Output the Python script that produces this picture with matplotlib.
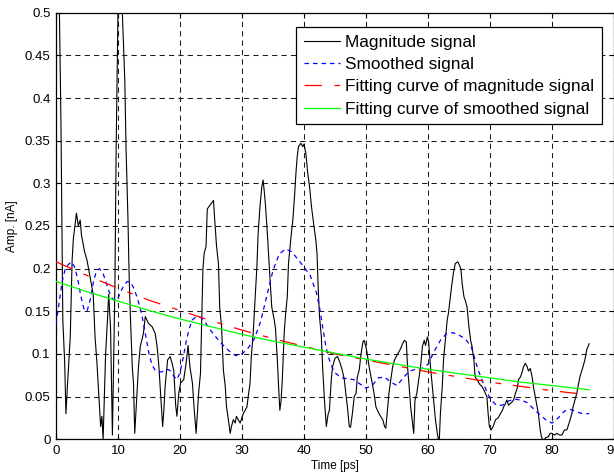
import matplotlib
matplotlib.use("Agg")
import matplotlib.pyplot as plt

plt.rcParams['font.family'] = ['Liberation Sans', 'DejaVu Sans']

# ---- data ----
mag_t = [0.0, 0.55, 0.8, 1.1, 1.4, 1.6, 1.9, 2.3, 2.6, 2.8, 3.3, 3.6, 3.9, 4.1, 4.6, 5.0,
         5.5, 6.0, 6.3, 6.6, 7.0, 7.2, 7.4, 7.6, 8.0, 8.3, 8.5, 8.8, 9.1, 9.5, 9.7, 10.0,
         10.3, 10.6, 11.1, 11.3, 11.6, 11.8, 12.0, 12.3, 12.5, 12.7, 13.0, 13.3, 13.6, 14.1,
         14.4, 14.9, 15.5, 16.0, 16.3, 16.6, 16.9, 17.2, 17.4, 17.6, 18.0, 18.4, 18.7, 19.0,
         19.3, 19.5, 19.8, 20.1, 20.6, 21.0, 21.3, 21.6, 22.0, 22.3, 22.6, 22.8, 23.0, 23.3,
         23.5, 23.7, 23.9, 24.2, 24.4, 24.9, 25.4, 25.6, 25.9, 26.2, 26.4, 26.7, 27.0, 27.3,
         27.5, 27.8, 28.1, 28.3, 28.6, 28.9, 29.1, 29.7, 30.2, 30.8, 31.0, 31.3, 31.5, 31.8,
         32.1, 32.4, 32.6, 32.9, 33.2, 33.4, 33.6, 33.8, 34.1, 34.5, 34.8, 35.2, 35.4, 35.7,
         35.9, 36.1, 36.3, 36.5, 36.8, 37.0, 37.3, 37.5, 37.9, 38.2, 38.5, 38.7, 38.9, 39.1,
         39.5, 39.8, 40.0, 40.3, 40.6, 40.9, 41.2, 41.6, 41.9, 42.1, 42.3, 42.5, 42.8, 43.0,
         43.3, 43.6, 43.9, 44.1, 44.4, 44.6, 45.0, 45.4, 45.8, 46.2, 46.5, 46.8, 47.0, 47.3,
         47.5, 47.8, 48.1, 48.4, 48.6, 48.9, 49.2, 49.5, 49.7, 50.0, 50.2, 50.5, 51.0, 51.3,
         51.6, 52.1, 52.7, 53.0, 53.2, 53.4, 53.7, 54.0, 54.3, 54.6, 55.1, 55.5, 55.9, 56.2,
         56.5, 56.7, 57.0, 57.2, 57.5, 57.7, 57.9, 58.2, 58.5, 58.8, 59.1, 59.4, 59.6, 59.9,
         60.1, 60.4, 60.7, 61.0, 61.2, 61.5, 61.8, 62.0, 62.3, 62.5, 62.8, 63.1, 63.3, 63.6,
         63.8, 64.1, 64.4, 64.8, 65.0, 65.3, 65.5, 65.8, 66.0, 66.3, 66.6, 66.9, 67.1, 67.4,
         67.6, 67.9, 68.2, 68.4, 68.7, 69.0, 69.5, 69.7, 69.9, 70.2, 70.5, 70.9, 71.3, 71.7,
         72.0, 72.2, 72.5, 72.7, 73.0, 73.3, 73.6, 73.8, 74.1, 74.4, 74.6, 74.9, 75.2, 75.4,
         75.7, 76.0, 76.2, 76.5, 76.8, 77.0, 77.3, 77.6, 77.8, 78.1, 78.3, 78.6, 79.0, 79.4,
         79.7, 80.0, 80.4, 80.8, 81.2, 81.6, 82.0, 82.4, 82.8, 83.2, 83.4, 83.7, 84.0, 84.2,
         84.5, 84.8, 85.0, 85.3, 85.6, 86.0]
mag_v = [0.90, 0.50, 0.37, 0.14, 0.09, 0.03, 0.07, 0.12, 0.21, 0.235, 0.265, 0.25, 0.257, 0.24, 0.22, 0.21,
         0.19, 0.17, 0.12, 0.09, 0.04, 0.015, 0.027, 0.0, 0.10, 0.14, 0.17, 0.13, 0.005, 0.18, 0.34, 0.50,
         0.70, 0.52, 0.42, 0.34, 0.26, 0.19, 0.144, 0.085, 0.065, 0.007, 0.046, 0.085, 0.109, 0.124,
         0.144, 0.136, 0.132, 0.124, 0.109, 0.085, 0.05, 0.015, 0.034, 0.062, 0.093, 0.097, 0.09, 0.08,
         0.04, 0.027, 0.054, 0.066, 0.07, 0.09, 0.11, 0.085, 0.066, 0.034, 0.007, 0.03, 0.054, 0.077,
         0.14, 0.20, 0.218, 0.226, 0.27, 0.275, 0.28, 0.257, 0.226, 0.206, 0.155, 0.132, 0.081, 0.062,
         0.038, 0.023, 0.007, 0.015, 0.023, 0.019, 0.027, 0.019, 0.03, 0.038, 0.05, 0.066, 0.097, 0.124,
         0.163, 0.202, 0.241, 0.273, 0.296, 0.304, 0.29, 0.273, 0.24, 0.19, 0.155, 0.14, 0.13, 0.093,
         0.062, 0.034, 0.045, 0.07, 0.124, 0.144, 0.167, 0.206, 0.237, 0.257, 0.288, 0.312, 0.331, 0.343,
         0.347, 0.343, 0.346, 0.335, 0.312, 0.296, 0.273, 0.25, 0.234, 0.218, 0.175, 0.144, 0.12, 0.085,
         0.046, 0.015, 0.03, 0.034, 0.07, 0.085, 0.095, 0.097, 0.09, 0.08, 0.07, 0.05, 0.038, 0.015,
         0.014, 0.03, 0.05, 0.054, 0.073, 0.081, 0.10, 0.114, 0.116, 0.108, 0.10, 0.085, 0.066, 0.054,
         0.038, 0.03, 0.023, 0.015, 0.013, 0.03, 0.054, 0.07, 0.085, 0.093, 0.10, 0.105, 0.112, 0.116,
         0.114, 0.085, 0.058, 0.038, 0.019, 0.007, 0.046, 0.054, 0.07, 0.085, 0.109, 0.116, 0.11, 0.12,
         0.114, 0.085, 0.062, 0.038, 0.023, 0.007, -0.005, 0.03, 0.062, 0.093, 0.116, 0.14, 0.148, 0.167,
         0.179, 0.195, 0.206, 0.208, 0.205, 0.20, 0.183, 0.167, 0.163, 0.155, 0.132, 0.115, 0.109, 0.093,
         0.073, 0.07, 0.066, 0.064, 0.062, 0.058, 0.05, 0.03, 0.015, 0.011, 0.015, 0.023, 0.025, 0.03,
         0.034, 0.038, 0.042, 0.046, 0.04, 0.042, 0.044, 0.046, 0.054, 0.06, 0.07, 0.073, 0.079, 0.085,
         0.089, 0.085, 0.08, 0.083, 0.073, 0.062, 0.05, 0.038, 0.03, 0.011, 0.003, -0.002, 0.002, 0.003,
         0.007, 0.007, 0.005, 0.007, 0.005, 0.005, 0.011, 0.011, 0.02, 0.03, 0.038, 0.046, 0.054, 0.062,
         0.073, 0.08, 0.085, 0.093, 0.105, 0.112]

smooth_t = [0, 0.5, 1.0, 1.5, 2.0, 2.5, 3.0, 3.5, 4.0, 4.5, 5.0, 5.5, 6.0, 6.5, 7.0, 7.5, 8.0, 8.5,
            9.0, 9.5, 10.0, 10.5, 11.0, 11.5, 12.0, 12.5, 13.0, 13.5, 14.0, 14.5, 15.0, 15.5, 16.0,
            16.5, 17.0, 17.5, 18.0, 18.5, 19.0, 19.5, 20.0, 20.5, 21.0, 21.5, 22.0, 22.5, 23.0, 23.5,
            24.0, 25.0, 26.0, 27.0, 28.0, 29.0, 30.0, 31.0, 32.0, 33.0, 34.0, 35.0, 36.0, 37.0, 38.0,
            39.0, 40.0, 41.0, 42.0, 42.5, 43.0, 43.5, 44.0, 44.5, 45.0, 46.0, 47.0, 48.0, 49.0, 50.0,
            51.0, 52.0, 53.0, 54.0, 55.0, 56.0, 57.0, 58.0, 59.0, 60.0, 61.0, 62.0, 63.0, 64.0, 65.0,
            66.0, 67.0, 68.0, 69.0, 70.0, 71.0, 72.0, 73.0, 74.0, 75.0, 76.0, 77.0, 78.0, 79.0, 80.0,
            81.0, 82.0, 83.0, 84.0, 85.0, 86.0]
smooth_v = [0.135, 0.16, 0.185, 0.20, 0.205, 0.208, 0.202, 0.188, 0.168, 0.153, 0.15, 0.163, 0.183,
            0.197, 0.20, 0.196, 0.186, 0.174, 0.166, 0.162, 0.165, 0.174, 0.181, 0.185, 0.184, 0.178,
            0.168, 0.156, 0.14, 0.12, 0.10, 0.087, 0.081, 0.079, 0.079, 0.08, 0.082, 0.08, 0.074, 0.07,
            0.078, 0.095, 0.115, 0.13, 0.14, 0.143, 0.144, 0.142, 0.138, 0.127, 0.118, 0.11, 0.103,
            0.098, 0.10, 0.107, 0.118, 0.138, 0.168, 0.198, 0.217, 0.223, 0.22, 0.211, 0.202, 0.192,
            0.172, 0.155, 0.132, 0.11, 0.095, 0.085, 0.078, 0.072, 0.071, 0.07, 0.065, 0.06, 0.063,
            0.072, 0.073, 0.067, 0.063, 0.072, 0.08, 0.082, 0.083, 0.088, 0.103, 0.116, 0.124, 0.125,
            0.122, 0.118, 0.108, 0.083, 0.064, 0.048, 0.04, 0.04, 0.045, 0.047, 0.046, 0.043, 0.036,
            0.029, 0.023, 0.019, 0.025, 0.033, 0.035, 0.032, 0.03, 0.03]

fit_t = [0, 5, 10, 15, 20, 25, 30, 35, 40, 45, 50, 55, 60, 65, 70, 75, 80, 86]
fit_mag_v = [0.208, 0.192, 0.177, 0.163, 0.151, 0.139, 0.128, 0.118, 0.109, 0.100, 0.093, 0.086,
             0.079, 0.073, 0.067, 0.062, 0.057, 0.052]
fit_smooth_v = [0.185, 0.173, 0.162, 0.151, 0.141, 0.132, 0.123, 0.115, 0.108, 0.101, 0.094, 0.088,
                0.082, 0.077, 0.072, 0.067, 0.063, 0.058]

labels = ['Magnitude signal', 'Smoothed signal',
          'Fitting curve of magnitude signal', 'Fitting curve of smoothed signal']
xticks = list(range(0, 91, 10))
yticks = [0, 0.05, 0.1, 0.15, 0.2, 0.25, 0.3, 0.35, 0.4, 0.45, 0.5]
ytick_labels = ['0', '0.05', '0.1', '0.15', '0.2', '0.25', '0.3', '0.35', '0.4', '0.45', '0.5']

# ---- figure ----
fig = plt.figure(figsize=(6.14, 4.75), dpi=100)
ax = fig.add_axes([56 / 614, 35.7 / 475, 558 / 614, 426.6 / 475])

ax.plot(mag_t, mag_v, color='black', lw=0.8, label=labels[0], zorder=3)
ax.plot(smooth_t, smooth_v, color='blue', lw=0.9, dashes=(3.6, 3.2), label=labels[1], zorder=4)
ax.plot(fit_t, fit_mag_v, color='red', lw=0.9, dashes=(14, 10, 4.5, 9.5), label=labels[2], zorder=5)
ax.plot(fit_t, fit_smooth_v, color='#00ff00', lw=0.9, label=labels[3], zorder=6)

ax.set_xlim(0, 90)
ax.set_ylim(0, 0.5)
ax.set_xticks(xticks)
ax.set_yticks(yticks)
ax.set_yticklabels(ytick_labels)
ax.tick_params(direction='in', top=True, right=True, length=3.6, width=0.8,
               labelsize=9.5, pad=4)
for s in ax.spines.values():
    s.set_linewidth(0.9)

ax.grid(True, color='0.1', lw=0.75, dashes=(5, 4))
ax.set_axisbelow(True)

ax.set_xlabel('Time [ps]', fontsize=8.5, labelpad=2)
ax.set_ylabel('Amp. [nA]', fontsize=8.5, labelpad=5)

leg = ax.legend(loc='upper right', bbox_to_anchor=(602 / 614, 1 - 27 / 475),
                bbox_transform=fig.transFigure, borderaxespad=0,
                fontsize=12.4, handlelength=2.1, handletextpad=0.3,
                labelspacing=0.42, borderpad=0.45, fancybox=False,
                framealpha=1, edgecolor='black')
leg.get_frame().set_linewidth(0.9)

fig.savefig('out.png', dpi=100)
